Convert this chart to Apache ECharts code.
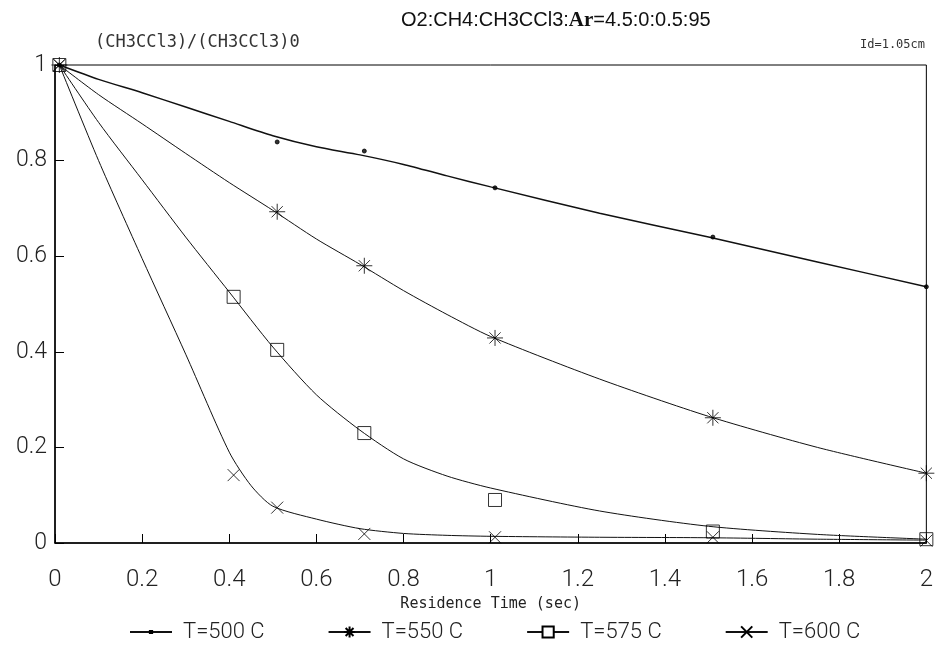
<!DOCTYPE html>
<html>
<head>
<meta charset="utf-8">
<script src="https://cdn.jsdelivr.net/npm/echarts@6/dist/echarts.min.js"></script>
<style>
  html, body { margin: 0; padding: 0; background: #fff; }
  #chart { width: 936px; height: 648px; }
</style>
</head>
<body>
<div id="chart"></div>
<script>
// measured points (residence time sec, [CH3CCl3]/[CH3CCl3]0)
const pts500 = [[0.01, 1.0], [0.51, 0.839], [0.71, 0.820], [1.01, 0.743], [1.51, 0.640], [2.0, 0.536]];
const pts550 = [[0.01, 1.0], [0.51, 0.693], [0.71, 0.580], [1.01, 0.429], [1.51, 0.262], [2.0, 0.146]];
const pts575 = [[0.01, 1.0], [0.41, 0.515], [0.51, 0.404], [0.71, 0.230], [1.01, 0.090], [1.51, 0.024], [2.0, 0.008]];
const pts600 = [[0.01, 1.0], [0.41, 0.142], [0.51, 0.074], [0.71, 0.019], [1.01, 0.012], [1.51, 0.012], [2.0, 0.005]];

// fitted curves
const fit500 = [[0.01, 1.0], [0.1, 0.97], [0.2, 0.942], [0.3, 0.912], [0.4, 0.882], [0.5, 0.852], [0.6, 0.829], [0.7, 0.812], [0.8, 0.792], [0.9, 0.768], [1.0, 0.745], [1.25, 0.69], [1.5, 0.64], [1.75, 0.588], [2.0, 0.536]];
const fit550 = [[0.01, 1.0], [0.1, 0.938], [0.2, 0.877], [0.3, 0.815], [0.4, 0.754], [0.5, 0.696], [0.6, 0.636], [0.7, 0.583], [0.8, 0.528], [0.9, 0.478], [1.0, 0.432], [1.25, 0.343], [1.5, 0.265], [1.75, 0.20], [2.0, 0.146]];
const fit575 = [[0.01, 1.0], [0.1, 0.88], [0.2, 0.76], [0.3, 0.64], [0.4, 0.525], [0.5, 0.41], [0.6, 0.31], [0.7, 0.236], [0.8, 0.176], [0.9, 0.14], [1.0, 0.115], [1.25, 0.067], [1.5, 0.035], [1.75, 0.018], [2.0, 0.008]];
const fit600 = [[0.01, 1.0], [0.1, 0.80], [0.2, 0.595], [0.3, 0.395], [0.4, 0.19], [0.45, 0.12], [0.5, 0.077], [0.6, 0.05], [0.7, 0.03], [0.8, 0.02], [0.9, 0.016], [1.0, 0.014], [1.25, 0.012], [1.5, 0.011], [1.75, 0.008], [2.0, 0.006]];

const names = ['T=500 C', 'T=550 C', 'T=575 C', 'T=600 C'];

// small dot inside a 10x10 box, so the legend dot stays tiny
const dot = 'path://M0,0M4,4L6,4L6,6L4,6ZM10,10';
const asterisk = 'path://M0,5L10,5M5,0L5,10M1.5,1.5L8.5,8.5M8.5,1.5L1.5,8.5';
const cross = 'path://M0,0L10,10M10,0L0,10';

const tickFont = { fontFamily: 'Roboto', fontWeight: 300, color: '#222' };

let chartDom = document.getElementById('chart');
let myChart = echarts.init(chartDom);

function curve(name, data, symbol, fill, width) {
  return {
    name: name,
    type: 'line',
    data: data,
    smooth: 0.25,
    showSymbol: false,
    symbol: symbol,
    symbolSize: 12,
    itemStyle: { color: fill, borderColor: '#000', borderWidth: 1 },
    lineStyle: { color: '#111', width: width },
    silent: true,
    z: 2
  };
}

function marks(name, data, symbol, size, fill) {
  return {
    name: name,
    type: 'scatter',
    data: data,
    symbol: symbol,
    symbolSize: size,
    itemStyle: { color: fill, borderColor: '#000', borderWidth: 1 },
    z: 3
  };
}

let option = {
  animation: false,
  backgroundColor: '#fff',
  title: [
    {
      text: 'O2:CH4:CH3CCl3:{b|Ar}=4.5:0:0.5:95',
      left: 396,
      top: 5,
      textStyle: {
        fontFamily: 'Liberation Sans',
        fontSize: 20,
        fontWeight: 'normal',
        color: '#111',
        rich: {
          b: { fontFamily: 'Liberation Serif', fontSize: 21, fontWeight: 'bold', color: '#111' }
        }
      }
    },
    {
      text: 'Id=1.05cm',
      right: 6,
      top: 34,
      textStyle: { fontFamily: 'DejaVu Sans Mono', fontSize: 12, fontWeight: 'normal', color: '#333' }
    }
  ],
  grid: {
    left: 55,
    right: 6,
    top: 65,
    bottom: 105,
    show: true,
    borderColor: '#000',
    borderWidth: 1
  },
  legend: {
    bottom: 0,
    left: 124,
    data: names,
    itemWidth: 42,
    itemHeight: 14,
    itemGap: 63,
    textStyle: Object.assign({ fontSize: 22, padding: [0, 0, 0, 6] }, tickFont)
  },
  xAxis: {
    type: 'value',
    min: 0,
    max: 2,
    interval: 0.2,
    name: 'Residence Time (sec)',
    nameLocation: 'middle',
    nameGap: 51,
    nameTextStyle: { fontFamily: 'DejaVu Sans Mono', fontSize: 15, color: '#222' },
    axisLine: { lineStyle: { color: '#000', width: 1.5 } },
    axisTick: { inside: true, length: 9, lineStyle: { color: '#000' } },
    axisLabel: Object.assign({ margin: 25, fontSize: 24 }, tickFont),
    splitLine: { show: false }
  },
  yAxis: {
    type: 'value',
    min: 0,
    max: 1,
    interval: 0.2,
    name: '(CH3CCl3)/(CH3CCl3)0',
    nameLocation: 'end',
    nameGap: 14,
    nameTextStyle: { align: 'left', padding: [0, 0, 0, 40], fontFamily: 'DejaVu Sans Mono', fontSize: 17, color: '#333' },
    axisLine: { show: true, lineStyle: { color: '#000', width: 1.5 } },
    axisTick: { show: true, inside: true, length: 9, lineStyle: { color: '#000' } },
    axisLabel: Object.assign({ margin: 8, fontSize: 23 }, tickFont),
    splitLine: { show: false }
  },
  series: [
    curve(names[0], fit500, dot, '#000', 1.5),
    curve(names[1], fit550, asterisk, 'none', 1),
    curve(names[2], fit575, 'rect', '#fff', 1),
    curve(names[3], fit600, cross, 'none', 1),
    marks(names[0], pts500, 'circle', 4, '#000'),
    marks(names[1], pts550, asterisk, 16, 'none'),
    marks(names[2], pts575, 'rect', 13, 'none'),
    marks(names[3], pts600, cross, 12, 'none')
  ]
};

myChart.setOption(option);
window.addEventListener('resize', () => {
  myChart.resize();
});
</script>
</body>
</html>
